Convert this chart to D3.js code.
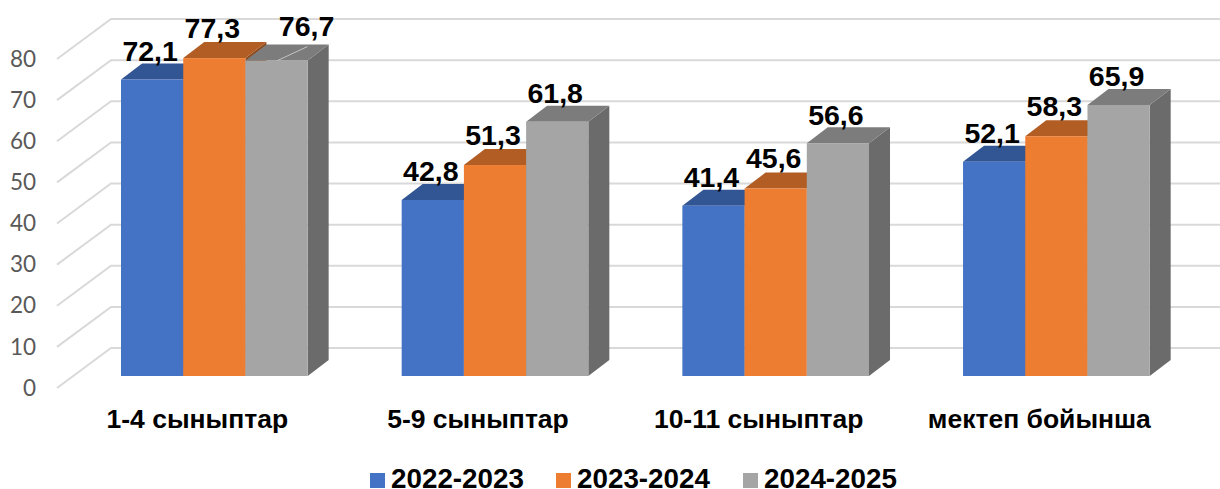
<!DOCTYPE html>
<html>
<head>
<meta charset="utf-8">
<script src="https://cdn.jsdelivr.net/npm/d3@7"></script>
<style>
  body { margin: 0; background: #fff; }
  svg { display: block; }
</style>
</head>
<body>
<script>
const categories = ["1-4 сыныптар", "5-9 сыныптар", "10-11 сыныптар", "мектеп бойынша"];
const series = ["2022-2023", "2023-2024", "2024-2025"];
const values2022 = [72.1, 42.8, 41.4, 52.1];
const values2023 = [77.3, 51.3, 45.6, 58.3];
const values2024 = [76.7, 61.8, 56.6, 65.9];
const allValues = [values2022, values2023, values2024];
const yTicks = [0, 10, 20, 30, 40, 50, 60, 70, 80];

const colFront = ["#4472C4", "#ED7D31", "#A5A5A5"];
const colTop = ["#325593", "#B15D24", "#7C7C7C"];
const colSide = ["#2A4A80", "#8F4A1C", "#6B6B6B"];

const width = 1220, height = 489;
const depthX = 21, depthY = 16;

const svg = d3.select("body").append("svg")
  .attr("width", width)
  .attr("height", height);

// y is the plane of the bar fronts, the walls sit in front of / behind it
const y = d3.scaleLinear().domain([0, 80]).range([376, 47]);
const x0 = d3.scaleBand().domain(categories).range([74, 1196.7]).paddingInner(0.335).paddingOuter(0.1675);
const x1 = d3.scaleBand().domain(series).range([0, x0.bandwidth()]);

const floorFront = { x: 57, dy: 12 };
const floorBack = { x: 111, dy: -28 };

// gridlines
svg.append("g").selectAll("path")
  .data(yTicks)
  .join("path")
  .attr("fill", "none")
  .attr("stroke", "#D9D9D9")
  .attr("stroke-width", 2)
  .attr("d", d => "M" + floorFront.x + "," + (y(d) + floorFront.dy)
    + "L" + floorBack.x + "," + (y(d) + floorBack.dy)
    + "L" + width + "," + (y(d) + floorBack.dy));

// tick labels
const axis = svg.append("g")
  .attr("transform", "translate(36," + floorFront.dy + ")")
  .call(d3.axisLeft(y).tickValues(yTicks).tickSize(0).tickPadding(0));
axis.select(".domain").remove();
axis.selectAll("text")
  .attr("font-family", "Lato")
  .attr("font-size", 22.5)
  .attr("fill", "#595959");

// bars
categories.forEach((cat, i) => {
  const g = svg.append("g").attr("transform", "translate(" + x0(cat) + ",0)");
  series.forEach((s, j) => {
    const v = allValues[j][i];
    const l = x1(s), r = l + x1.bandwidth();
    const t = y(v), b = y(0);
    g.append("path").attr("fill", colSide[j])
      .attr("d", "M" + r + "," + t + "L" + (r + depthX) + "," + (t - depthY)
        + "L" + (r + depthX) + "," + (b - depthY) + "L" + r + "," + b + "Z");
    g.append("path").attr("fill", colTop[j])
      .attr("d", "M" + l + "," + t + "L" + (l + depthX) + "," + (t - depthY)
        + "L" + (r + depthX) + "," + (t - depthY) + "L" + r + "," + t + "Z");
    g.append("rect").attr("fill", colFront[j])
      .attr("x", l).attr("y", t)
      .attr("width", x1.bandwidth()).attr("height", b - t);
  });
});

// leader line of the moved 76,7 label
const lastBar = x0(categories[0]) + x1(series[2]);
svg.append("line")
  .attr("x1", lastBar + 32).attr("y1", y(values2024[0]))
  .attr("x2", lastBar + 62).attr("y2", y(values2024[0]) - 14)
  .attr("stroke", "#C4C4C4")
  .attr("stroke-width", 1);

// data labels
categories.forEach((cat, i) => {
  series.forEach((s, j) => {
    const v = allValues[j][i];
    const moved = i == 0 && j == 2;
    svg.append("text")
      .attr("x", x0(cat) + x1(s) + x1.bandwidth() / 2 + (moved ? 30 : -2))
      .attr("y", y(v) - (moved ? 25 : j == 1 ? 20.5 : 18.5))
      .attr("text-anchor", "middle")
      .attr("font-family", "Liberation Sans")
      .attr("font-weight", "bold")
      .attr("font-size", 28.5)
      .attr("fill", "#000")
      .text(String(v).replace(".", ","));
  });
});

// category labels
svg.append("g").selectAll("text")
  .data(categories)
  .join("text")
  .attr("x", d => x0(d) + x0.bandwidth() / 2 - 17)
  .attr("y", 428)
  .attr("text-anchor", "middle")
  .attr("font-family", "Liberation Sans")
  .attr("font-weight", "bold")
  .attr("font-size", 26.5)
  .attr("fill", "#000")
  .text(d => d);

// legend
const legendX = d3.scaleOrdinal().domain(series).range([370, 556, 743]);
const legend = svg.append("g").selectAll("g")
  .data(series)
  .join("g")
  .attr("transform", d => "translate(" + legendX(d) + ",473)");
legend.append("rect")
  .attr("width", 15).attr("height", 15)
  .attr("fill", (d, i) => colFront[i]);
legend.append("text")
  .attr("x", 21)
  .attr("y", 15)
  .attr("font-family", "Liberation Sans")
  .attr("font-weight", "bold")
  .attr("font-size", 27.8)
  .attr("fill", "#000")
  .text(d => d);
</script>
</body>
</html>
